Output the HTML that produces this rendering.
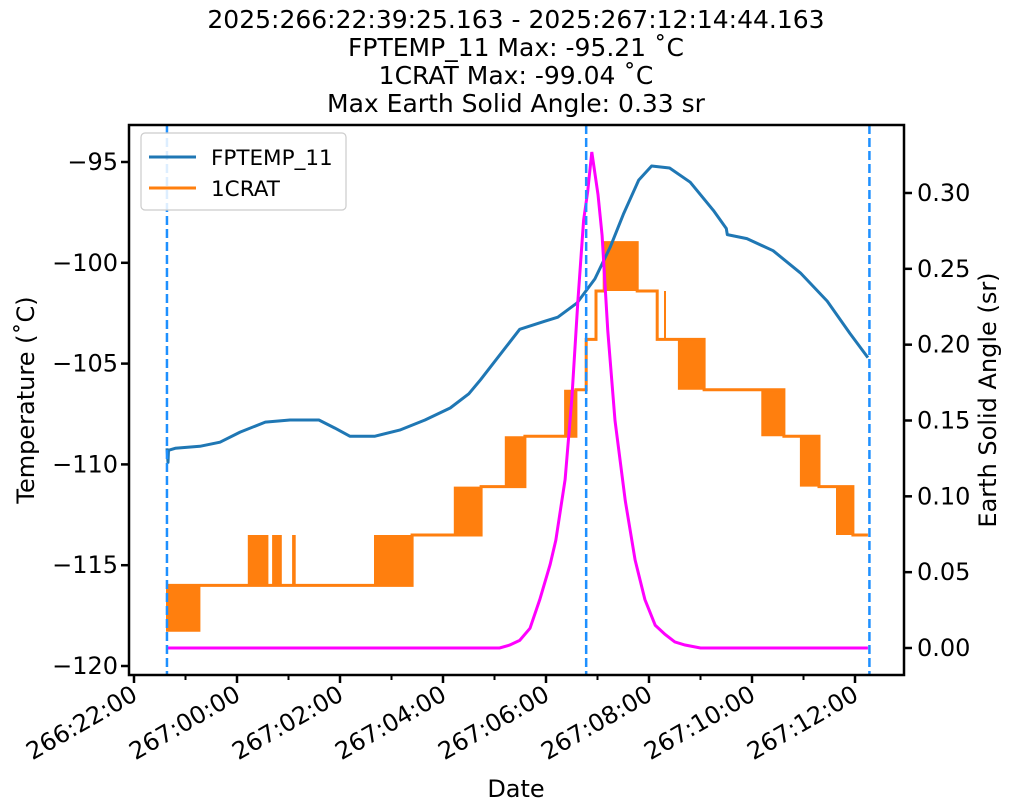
<!DOCTYPE html>
<html><head><meta charset="utf-8">
<style>
html,body{margin:0;padding:0;background:#fff;}
svg{display:block;font-family:"DejaVu Sans","Liberation Sans",sans-serif;}
</style></head>
<body>
<svg id="chart" width="1011" height="811" viewBox="0 0 1011 811" xmlns="http://www.w3.org/2000/svg">
<g font-size="25" text-anchor="middle" fill="#000">
<text x="516" y="28">2025:266:22:39:25.163 - 2025:267:12:14:44.163</text>
<text x="516" y="56">FPTEMP_11 Max: -95.21 ˚C</text>
<text x="516" y="84">1CRAT Max: -99.04 ˚C</text>
<text x="516" y="112">Max Earth Solid Angle: 0.33 sr</text>
</g>
<g id="plot"></g>
</svg>
<script>
// time in hours since 266:22:00
const xTickHours=[0,2,4,6,8,10,12,14];
const xTickLabels=["266:22:00","267:00:00","267:02:00","267:04:00","267:06:00","267:08:00","267:10:00","267:12:00"];
const yTicks=[-95,-100,-105,-110,-115,-120];
const y2Ticks=[0,0.05,0.10,0.15,0.20,0.25,0.30];
const y2Labels=["0.00","0.05","0.10","0.15","0.20","0.25","0.30"];
const fpTimes=[0.64,0.66,0.67,0.80,1.28,1.67,2.06,2.55,3.03,3.59,3.90,4.19,4.68,5.16,5.65,6.14,6.50,6.73,7.49,7.97,8.23,8.60,8.95,9.25,9.50,9.80,10.05,10.40,10.80,11.25,11.50,11.52,11.90,12.41,12.94,13.46,13.90,14.25];
const fpValues=[-109.2,-109.9,-109.3,-109.2,-109.1,-108.9,-108.4,-107.9,-107.8,-107.8,-108.2,-108.6,-108.6,-108.3,-107.8,-107.2,-106.5,-105.8,-103.3,-102.9,-102.7,-102.0,-100.8,-99.2,-97.6,-95.9,-95.2,-95.3,-96.0,-97.4,-98.3,-98.6,-98.8,-99.4,-100.5,-101.9,-103.5,-104.7];
// 1CRAT: step changes (time, level) and toggle bands
const cratTimes=[0.64,5.40,6.74,7.59,8.58,8.78,8.97,9.13,9.77,10.16,11.07,12.62,13.30,13.96,14.25];
const cratValues=[-116.0,-113.5,-111.1,-108.6,-106.3,-103.8,-101.4,-99.0,-101.4,-103.8,-106.3,-108.6,-111.1,-113.5,-113.5];
const bandStart=[0.64,2.23,2.70,3.09,4.68,6.23,7.22,8.37,9.13,10.31,10.58,12.20,12.95,13.65];
const bandEnd=[1.28,2.60,2.85,3.12,5.40,6.74,7.59,8.58,9.77,10.33,11.07,12.62,13.30,13.96];
const bandLow=[-118.3,-116.0,-116.0,-116.0,-116.0,-113.5,-111.1,-108.6,-101.4,-103.8,-106.3,-108.6,-111.1,-113.5];
const bandHigh=[-116.0,-113.5,-113.5,-113.5,-113.5,-111.1,-108.6,-106.3,-99.0,-101.4,-103.8,-106.3,-108.6,-111.1];
const saTimes=[0.64,7.10,7.30,7.49,7.69,7.88,8.08,8.19,8.37,8.50,8.62,8.73,8.81,8.89,9.01,9.09,9.20,9.34,9.54,9.73,9.92,10.12,10.31,10.50,10.70,11.0,14.25];
const saValues=[0,0,0.002,0.005,0.013,0.032,0.055,0.071,0.111,0.164,0.229,0.282,0.301,0.327,0.299,0.272,0.209,0.150,0.097,0.058,0.032,0.015,0.009,0.004,0.002,0,0];
const vLines=[0.64,8.78,14.28];

const L=129,R=904,T=125,B=675;
const X=h=>134+h*51.5;
const Y=v=>666-(v+120)*20.16;
const Y2=v=>648-v*1516.7;
const NS="http://www.w3.org/2000/svg";
const root=document.getElementById('plot');
function el(tag,attrs,parent){const e=document.createElementNS(NS,tag);for(const k in attrs)e.setAttribute(k,attrs[k]);(parent||root).appendChild(e);return e;}

const defs=el('defs',{});
const cp=el('clipPath',{id:'clip'},defs);el('rect',{x:L,y:T,width:R-L,height:B-T},cp);
const data=el('g',{'clip-path':'url(#clip)'});



for(let i=0;i<bandStart.length;i++){
  let d='';
  for(let t=bandStart[i];t<=bandEnd[i]+1e-6;t+=0.03){d+=`M${X(t).toFixed(1)},${Y(bandLow[i]).toFixed(1)}V${Y(bandHigh[i]).toFixed(1)}`;}
  const p=el('path',{d:d,stroke:'#ff7f0e','stroke-width':2,fill:'none'},data);
  
  
}
{let d=`M${X(cratTimes[0])},${Y(cratValues[0])}`;
for(let i=1;i<cratTimes.length;i++){d+=`H${X(cratTimes[i]).toFixed(1)}V${Y(cratValues[i]).toFixed(1)}`;}
const p=el('path',{d:d,stroke:'#ff7f0e','stroke-width':3,fill:'none'},data);

}
{const pts=fpTimes.map((t,i)=>X(t).toFixed(1)+','+Y(fpValues[i]).toFixed(1)).join(' ');
const p=el('polyline',{points:pts,stroke:'#1f77b4','stroke-width':3,fill:'none','stroke-linejoin':'round'},data);

}
{const pts=saTimes.map((t,i)=>X(t).toFixed(1)+','+Y2(saValues[i]).toFixed(1)).join(' ');
const p=el('polyline',{points:pts,stroke:'#ff00ff','stroke-width':3,fill:'none'},data);

}
vLines.forEach(t=>{const l=el('line',{x1:X(t),x2:X(t),y1:T,y2:B,stroke:'#1e90ff','stroke-width':2.5,'stroke-dasharray':'9,4'},data);

});

{const f=el('rect',{x:L,y:T,width:R-L,height:B-T,fill:'none',stroke:'#000','stroke-width':2.5});

}

xTickHours.forEach((h,i)=>{
  el('line',{x1:X(h),x2:X(h),y1:B,y2:B+8,stroke:'#000','stroke-width':2.5});
  const tx=el('text',{x:X(h)+5,y:B+24,'font-size':24,'text-anchor':'end',transform:`rotate(-30 ${X(h)+5} ${B+24})`});
  tx.textContent=xTickLabels[i];
  
  
  if(i<xTickHours.length-1) el('line',{x1:X(h+1),x2:X(h+1),y1:B,y2:B+5,stroke:'#000','stroke-width':2});
});
yTicks.forEach(v=>{
  el('line',{x1:L-8,x2:L,y1:Y(v),y2:Y(v),stroke:'#000','stroke-width':2.5});
  const tx=el('text',{x:L-11,y:Y(v)+8,'font-size':24,'text-anchor':'end'});
  tx.textContent=(v<0?'\u2212':'')+Math.abs(v);
  
  
});
y2Ticks.forEach((v,i)=>{
  el('line',{x1:R,x2:R+8,y1:Y2(v),y2:Y2(v),stroke:'#000','stroke-width':2.5});
  const tx=el('text',{x:R+13,y:Y2(v)+8,'font-size':24,'text-anchor':'start'});
  tx.textContent=y2Labels[i];
  
  
});
{const t=el('text',{x:516,y:797,'font-size':24,'text-anchor':'middle'});t.textContent='Date';
}
{const t=el('text',{x:34,y:400,'font-size':24,'text-anchor':'middle',transform:'rotate(-90 34 400)'});t.textContent='Temperature (˚C)';
}
{const t=el('text',{x:996,y:400,'font-size':24,'text-anchor':'middle',transform:'rotate(-90 996 400)'});t.textContent='Earth Solid Angle (sr)';
}
{const g=el('g',{});

el('rect',{x:141,y:133,width:205,height:77,rx:4,fill:'#fff','fill-opacity':0.85,stroke:'#ccc','stroke-width':1.2},g);
const names=['FPTEMP_11','1CRAT'],cols=['#1f77b4','#ff7f0e'];
names.forEach((n,i)=>{const yy=157+i*31;
  const e=el('g',{},g);
  
  el('line',{x1:149,x2:196,y1:yy,y2:yy,stroke:cols[i],'stroke-width':3},e);
  const t=el('text',{x:211,y:yy+8,'font-size':21.5},e);t.textContent=n;});
}
</script>
</body></html>
